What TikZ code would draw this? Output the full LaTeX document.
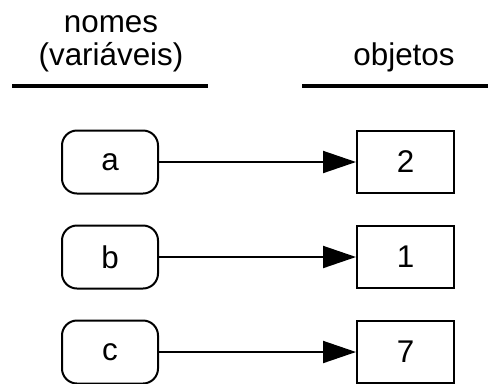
\documentclass[tikz,border=0pt]{standalone}
\usepackage{fontspec}
\setmainfont{Liberation Sans}
\usetikzlibrary{arrows.meta}

\begin{document}
\begin{tikzpicture}[x=1bp,y=-1bp,font=\fontsize{31.5}{36}\selectfont]
            \tikzset{nome/.style={draw,line width=2bp,rounded corners=15bp,minimum width=96bp,minimum height=63bp,inner sep=0pt},
                     objeto/.style={draw,line width=2bp,minimum width=97bp,minimum height=62bp,inner sep=0pt},
                     seta/.style={-{Triangle[length=33bp,width=22bp]},line width=2bp}}
            \useasboundingbox (0,0) rectangle (488,383);
            \node[anchor=base] (nomes) at (111,32) {nomes};
            \node[anchor=base] (variaveis) at (111,65) {(variáveis)};
            \node[anchor=base] (objetos) at (404,65) {objetos};
            \coordinate (l1) at (12,86);
            \coordinate (l2) at (208,86);
            \coordinate (r1) at (302,86);
            \coordinate (r2) at (490,86);
            \draw[line width=3.5bp] (l1) -- (l2);
            \draw[line width=3.5bp] (r1) -- (r2);
            \node[nome] (a) at (110,162) {a};
            \node[nome] (b) at (110,257) {b};
            \node[nome] (c) at (110,352) {c};
            \node[objeto] (2) at (405.5,162) {2};
            \node[objeto] (1) at (405.5,257) {1};
            \node[objeto] (7) at (405.5,352) {7};
            \draw[seta] (a) -- (2);
            \draw[seta] (b) -- (1);
            \draw[seta] (c) -- (7);
        \end{tikzpicture}
\end{document}
